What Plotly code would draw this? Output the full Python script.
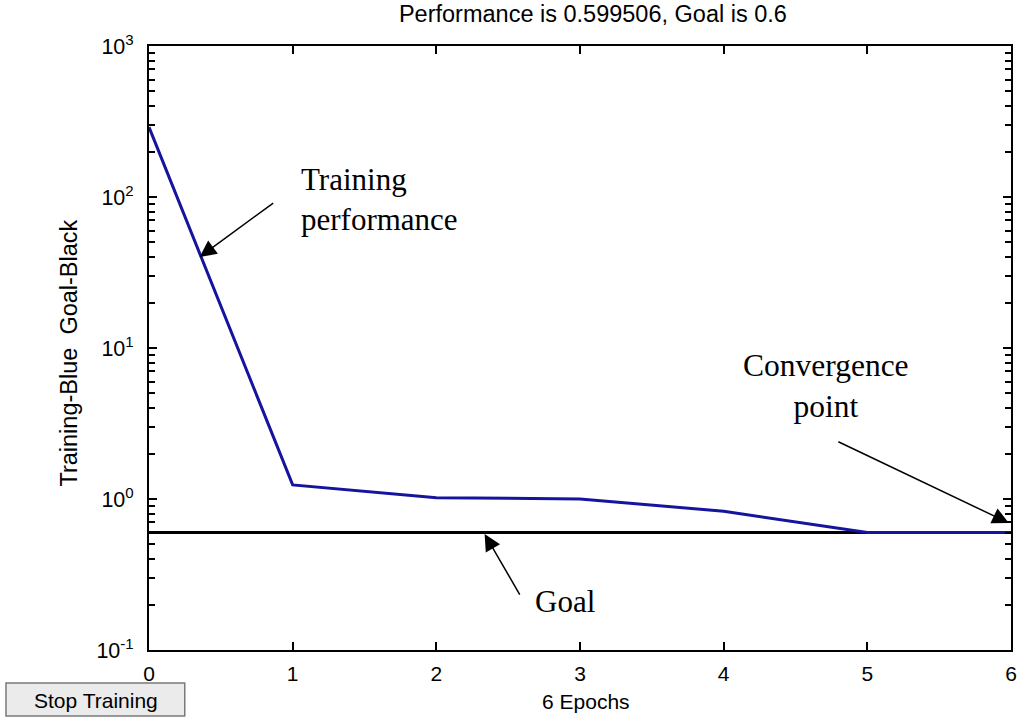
import plotly.graph_objects as go

# ---- data ----
epochs = [0, 1, 2, 3, 4, 5, 6]
training_perf = [290, 1.24, 1.02, 1.0, 0.83, 0.6, 0.599506]
goal = [0.6, 0.6, 0.6, 0.6, 0.6, 0.6, 0.6]

y_tickvals = [0.1, 1, 10, 100, 1000]
y_ticktext = ["10<sup>-1</sup>", "10<sup>0</sup>", "10<sup>1</sup>", "10<sup>2</sup>", "10<sup>3</sup>"]
x_tickvals = [0, 1, 2, 3, 4, 5, 6]
minor_vals = [m * 10 ** e for e in range(-1, 3) for m in range(2, 10)]

W, H = 1023, 723
L, R, T, B = 149, 6, 46, 73
PW, PH = W - L - R, H - T - B


def px(xpix):
    return (xpix - L) / PW


def py(ypix):
    return (H - B - ypix) / PH


sans = "Liberation Sans, Arial, sans-serif"
serif = "Liberation Serif, Times New Roman, serif"

fig = go.Figure()
fig.add_trace(go.Scatter(x=epochs, y=goal, mode="lines",
                         line=dict(color="black", width=3), showlegend=False))
fig.add_trace(go.Scatter(x=epochs, y=training_perf, mode="lines",
                         line=dict(color="#14149e", width=3), showlegend=False))

minor_cfg = dict(tickvals=minor_vals, ticks="inside", ticklen=6,
                 tickwidth=1.5, tickcolor="black", showgrid=False)

fig.update_layout(
    width=W, height=H,
    margin=dict(l=L, r=R, t=T, b=B),
    paper_bgcolor="white", plot_bgcolor="white",
    font=dict(family=sans, size=21, color="black"),
    title=dict(text="Performance is 0.599506, Goal is 0.6",
               x=px(596), xref="paper", xanchor="center",
               y=1 - 14 / H, yref="container", yanchor="middle",
               font=dict(family=sans, size=23.5, color="black")),
    xaxis=dict(range=[0, 6], tickvals=x_tickvals, ticks="inside", ticklen=8,
               tickwidth=1.5, tickcolor="black", showline=True, linecolor="black",
               linewidth=2, mirror="ticks", showgrid=False, zeroline=False,
               tickfont=dict(family=sans, size=21), ticklabelstandoff=4),
    yaxis=dict(type="log", range=[-1, 3], tickvals=y_tickvals, ticktext=y_ticktext,
               ticks="inside", ticklen=8, tickwidth=1.5, tickcolor="black",
               showline=True, linecolor="black", linewidth=2, mirror="ticks",
               showgrid=False, zeroline=False, tickfont=dict(family=sans, size=21.5),
               ticklabelstandoff=9, minor=minor_cfg),
    yaxis2=dict(type="log", range=[-1, 3], overlaying="y", side="right",
                tickvals=y_tickvals, showticklabels=False, ticks="inside", ticklen=8,
                tickwidth=1.5, tickcolor="black", showline=False, showgrid=False,
                zeroline=False, minor=minor_cfg),
)

# invisible trace to keep the right-hand mirrored axis rendered
fig.add_trace(go.Scatter(x=epochs, y=goal, yaxis="y2", mode="lines",
                         line=dict(color="rgba(0,0,0,0)", width=0),
                         showlegend=False, hoverinfo="skip"))

# axis titles
fig.add_annotation(text="6 Epochs", xref="paper", yref="paper", x=px(589), y=py(701),
                   showarrow=False, xanchor="center", yanchor="middle",
                   font=dict(family=sans, size=21))
fig.add_annotation(text="Training-Blue  Goal-Black", xref="paper", yref="paper",
                   x=px(68), y=py(353), textangle=-90, showarrow=False,
                   xanchor="center", yanchor="middle", font=dict(family=sans, size=23.5))

# callout arrows
arrow = dict(showarrow=True, arrowhead=2, arrowsize=2.2, arrowwidth=1.5,
             arrowcolor="black", text="", xref="x", yref="y")
fig.add_annotation(x=0.353, y=1.603, ax=75, ay=-55, **arrow)
fig.add_annotation(x=5.985, y=-0.159, ax=-172, ay=-82, **arrow)
fig.add_annotation(x=2.336, y=-0.232, ax=36, ay=62, **arrow)

# callout texts
fig.add_annotation(text="Training<br>performance", xref="paper", yref="paper",
                   x=px(300), y=py(200), xanchor="left", yanchor="middle",
                   align="left", showarrow=False, font=dict(family=serif, size=31))
fig.add_annotation(text="Convergence<br>point", xref="paper", yref="paper",
                   x=px(831), y=py(386), xanchor="center", yanchor="middle",
                   align="center", showarrow=False, font=dict(family=serif, size=31.5))
fig.add_annotation(text="Goal", xref="paper", yref="paper",
                   x=px(568), y=py(601), xanchor="center", yanchor="middle",
                   showarrow=False, font=dict(family=serif, size=31))

# Stop Training button
fig.add_shape(type="rect", xref="paper", yref="paper",
              x0=px(5), x1=px(185), y0=py(716), y1=py(683),
              fillcolor="#ebebeb", line=dict(color="#7a7a7a", width=1.5))
fig.add_annotation(text="Stop Training", xref="paper", yref="paper",
                   x=px(96), y=py(700), showarrow=False, xanchor="center",
                   yanchor="middle", font=dict(family=sans, size=21))

fig.write_html("out.html")
